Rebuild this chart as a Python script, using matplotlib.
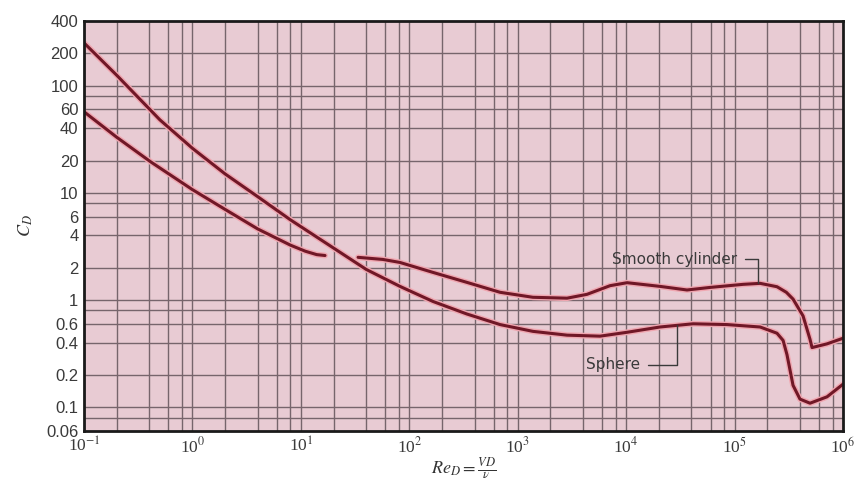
import numpy as np
import matplotlib.pyplot as plt
from matplotlib.ticker import FixedLocator, NullFormatter

# values (Re_D, C_D)
sphere_re = [0.1, 0.2, 0.5, 1.0, 2.0, 4.0, 8.0, 17, 40, 82, 165, 340, 687,
             1380, 2850, 5740, 10200, 20500, 41400, 85100, 172000, 246000,
             280000, 304000, 346000, 401000, 496000, 712000, 1e6]
sphere_cd = [250, 125, 48, 26, 15, 9.2, 5.6, 3.4, 1.93, 1.34, 0.97, 0.74, 0.59,
             0.51, 0.47, 0.46, 0.50, 0.56, 0.60, 0.59, 0.56, 0.49,
             0.42, 0.31, 0.16, 0.119, 0.109, 0.125, 0.164]

cyl_low_re = [0.1, 0.2, 0.41, 1.0, 2.0, 4.0, 8.0, 11, 14, 16.7]
cyl_low_cd = [57, 33, 19.5, 10.7, 7.0, 4.6, 3.25, 2.85, 2.65, 2.6]

cyl_high_re = [33.7, 57, 82, 165, 340, 687, 1380, 2850, 4360, 7100, 10200, 20500,
               36400, 59300, 120000, 172000, 246000, 300000, 346000, 428000, 496000,
               518000, 712000, 1e6]
cyl_high_cd = [2.5, 2.39, 2.24, 1.81, 1.46, 1.18, 1.06, 1.04, 1.13, 1.36, 1.45, 1.34,
               1.24, 1.31, 1.40, 1.43, 1.33, 1.18, 1.02, 0.71, 0.43,
               0.36, 0.39, 0.44]

ytick_vals = [0.06, 0.1, 0.2, 0.4, 0.6, 1, 2, 4, 6, 10, 20, 40, 60, 100, 200, 400]
ytick_labels = ['0.06', '0.1', '0.2', '0.4', '0.6', '1', '2', '4', '6', '10', '20',
                '40', '60', '100', '200', '400']
xtick_vals = [1e-1, 1e0, 1e1, 1e2, 1e3, 1e4, 1e5, 1e6]
xtick_labels = ['10$^{-1}$', '10$^{0}$', '10$^{1}$', '10$^{2}$', '10$^{3}$',
                '10$^{4}$', '10$^{5}$', '10$^{6}$']
grid_mult = [1, 2, 4, 6, 8]

plt.rcParams['mathtext.fontset'] = 'stix'

fig = plt.figure(figsize=(8.59, 4.90), dpi=100, facecolor='white')
ax = fig.add_axes([0.0978, 0.1204, 0.8836, 0.8367])
ax.set_facecolor('#e8cbd3')
ax.set_xscale('log')
ax.set_yscale('log')
ax.set_xlim(0.1, 1e6)
ax.set_ylim(0.06, 400)

# grid at 1, 2, 4, 6, 8 in each decade
gx = [m * 10.0**e for e in range(-1, 6) for m in grid_mult]
gy = [m * 10.0**e for e in range(-2, 3) for m in grid_mult]
gy = [v for v in gy if 0.06 < v < 400]
for v in gx:
    ax.axvline(v, color='#76656c', lw=1.0, zorder=1)
for v in gy:
    ax.axhline(v, color='#76656c', lw=1.0, zorder=1)

curve_col = '#701827'
halo_col = '#f0a6b0'
for xs, ys in [(sphere_re, sphere_cd), (cyl_low_re, cyl_low_cd), (cyl_high_re, cyl_high_cd)]:
    ax.plot(xs, ys, color=halo_col, lw=4.2, solid_capstyle='round',
            solid_joinstyle='round', zorder=3)
    ax.plot(xs, ys, color=curve_col, lw=2.2, solid_capstyle='round',
            solid_joinstyle='round', zorder=4)

ax.yaxis.set_major_locator(FixedLocator(ytick_vals))
ax.yaxis.set_minor_formatter(NullFormatter())
ax.yaxis.set_minor_locator(FixedLocator([]))
ax.set_yticklabels(ytick_labels)
ax.xaxis.set_major_locator(FixedLocator(xtick_vals))
ax.xaxis.set_minor_locator(FixedLocator([]))
ax.set_xticklabels(xtick_labels)
ax.tick_params(axis='both', length=0)
ax.tick_params(axis='y', pad=4, labelsize=12, labelcolor='#3a3a3a')
ax.tick_params(axis='x', pad=4, labelsize=12.5, labelcolor='#3a3a3a')
for lab in ax.get_yticklabels():
    lab.set_family('Liberation Sans')
for lab in ax.get_xticklabels():
    lab.set_family('Liberation Serif')

for s in ax.spines.values():
    s.set_linewidth(2.0)
    s.set_color('#1a1a1a')
    s.set_zorder(5)

ax.set_ylabel('$C_D$', fontsize=13, labelpad=8, color='#333333')
ax.set_xlabel(r'$Re_D = \frac{VD}{\nu}$', fontsize=13, labelpad=0, color='#333333')

ann_kw = dict(fontsize=11, family='DejaVu Sans', color='#3a3a3a',
              ha='right', va='center', textcoords='axes fraction', zorder=6)
ax.annotate('Smooth cylinder', xy=(164000, 1.43), xytext=(0.860, 0.4195),
            arrowprops=dict(arrowstyle='-', color='#3a3a3a', lw=1,
                            connectionstyle='angle,angleA=0,angleB=90,rad=0',
                            shrinkA=4, shrinkB=0),
            **ann_kw)
ax.annotate('Sphere', xy=(29400, 0.58), xytext=(0.7325, 0.161),
            arrowprops=dict(arrowstyle='-', color='#3a3a3a', lw=1,
                            connectionstyle='angle,angleA=0,angleB=90,rad=0',
                            shrinkA=4, shrinkB=0),
            **ann_kw)

fig.savefig('out.png', dpi=100)
